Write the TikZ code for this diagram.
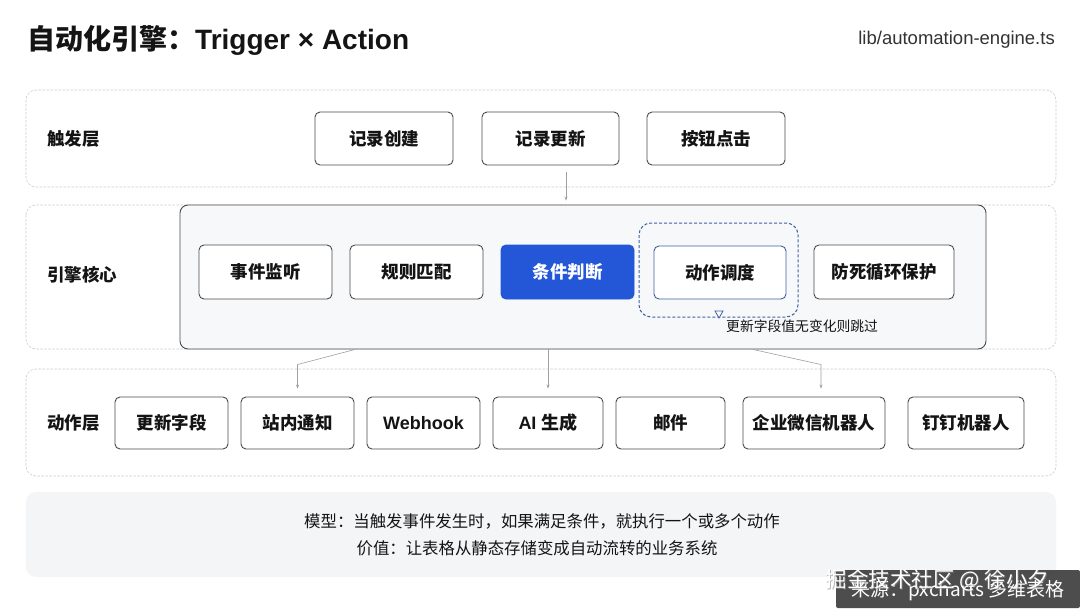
\documentclass[tikz,border=0pt]{standalone}
\usepackage{fontspec}
\setmainfont{Liberation Sans}
\newfontfamily\cjk{Noto Sans CJK SC}
\usetikzlibrary{arrows.meta,calc}
\definecolor{ink}{HTML}{141414}
\definecolor{boxline}{HTML}{4A4A4A}
\definecolor{layline}{HTML}{CDCDCD}
\definecolor{arrcol}{HTML}{A0A0A0}
\definecolor{blueact}{HTML}{2457D8}
\definecolor{bluedash}{HTML}{3F5F9E}
\definecolor{corefill}{HTML}{F7F8FA}
\definecolor{notefill}{HTML}{F4F5F7}
\definecolor{wmark}{HTML}{3A3A3A}
\newcommand{\fs}[1]{\fontsize{#1}{#1}\selectfont}
\begin{document}
\begin{tikzpicture}[x=1pt,y=-1pt,
  layer/.style={draw=layline,dash pattern=on 2.5pt off 1.5pt,rounded corners=10pt,line width=0.6pt},
  box/.style={draw=boxline,line width=0.9pt,rounded corners=5pt,fill=white,minimum height=53pt,inner sep=0pt,text=ink,font=\cjk\bfseries\fs{17.5}},
  lab/.style={anchor=west,inner sep=0pt,text=ink,font=\cjk\bfseries\fs{17.5}},
  arr/.style={draw=arrcol,line width=0.6pt,-{Stealth[length=4pt,width=3pt]}},
  plain/.style={inner sep=0pt,text=ink}]
\useasboundingbox (0,0) rectangle (1080,613);
\fill[white] (0,0) rectangle (1080,613);

% title
\node[plain,anchor=west,font=\bfseries\fs{28}] (title) at (27,40) {{\cjk\bfseries 自动化引擎：}Trigger × Action};
\node[plain,anchor=east,font=\fs{18.5},text=black!80] (file) at (1055,40) {lib/automation-engine.ts};

% layers
\draw[layer] (26,90) rectangle (1056,187);
\draw[layer] (26,205) rectangle (1056,349);
\draw[layer] (26,369) rectangle (1056,476);

\node[lab] (l1) at (47,139) {触发层};
\node[lab] (l2) at (47,275) {引擎核心};
\node[lab] (l3) at (47,423) {动作层};

% trigger boxes
\node[box,minimum width=138pt] (t1) at (384,138.5) {记录创建};
\node[box,minimum width=137pt] (t2) at (550.5,138.5) {记录更新};
\node[box,minimum width=138pt] (t3) at (716,138.5) {按钮点击};

% engine core
\node[draw=boxline,line width=0.9pt,rounded corners=8pt,fill=corefill,minimum width=806pt,minimum height=144pt,inner sep=0pt] (core) at (583,277) {};

\draw[bluedash,line width=1pt,dash pattern=on 3pt off 2pt,rounded corners=12pt] (639,223) rectangle (798,317);
\draw[bluedash,line width=0.8pt,fill=corefill] (715,311) -- (723,311) -- (719,318) -- cycle;
\node[plain,anchor=west,font=\cjk\fs{13.8}] (note) at (726,326) {更新字段值无变化则跳过};

\node[box,minimum width=133pt,minimum height=54pt] (e1) at (265.5,272) {事件监听};
\node[box,minimum width=133pt,minimum height=54pt] (e2) at (416.5,272) {规则匹配};
\node[box,minimum width=133pt,minimum height=54pt,fill=blueact,draw=blueact,text=white] (e3) at (567.5,272) {条件判断};
\node[box,minimum width=132pt,minimum height=53pt,draw=bluedash] (e4) at (720,272.5) {动作调度};
\node[box,minimum width=140pt,minimum height=54pt] (e5) at (884,272) {防死循环保护};

% action boxes
\node[box,minimum width=113pt,minimum height=52pt] (a1) at (171.5,423) {更新字段};
\node[box,minimum width=113pt,minimum height=52pt] (a2) at (297.5,423) {站内通知};
\node[box,minimum width=113pt,minimum height=52pt,font=\bfseries\fs{18}] (a3) at (423.5,423) {Webhook};
\node[box,minimum width=110pt,minimum height=52pt,font=\bfseries\fs{18}] (a4) at (548,423) {AI {\cjk\bfseries 生成}};
\node[box,minimum width=109pt,minimum height=52pt] (a5) at (670.5,423) {邮件};
\node[box,minimum width=142pt,minimum height=52pt] (a6) at (814,423) {企业微信机器人};
\node[box,minimum width=116pt,minimum height=52pt] (a7) at (966,423) {钉钉机器人};

% connectors
\draw[arr] ([xshift=15.5pt,yshift=-7pt]t2.south) -- ([xshift=15.5pt,yshift=4pt]t2.south |- core.north);
\draw[arr] ([xshift=-228pt]core.south) -- ($(a2.north)+(0,-32)$) -- ([yshift=8pt]a2.north);
\draw[arr] (core.south -| a4.north) -- ([yshift=8pt]a4.north);
\draw[arr] ([xshift=170pt]core.south) -- ($(a6.north)+(7,-32)$) -- ([xshift=7pt,yshift=8pt]a6.north);

% note panel
\fill[notefill,rounded corners=10pt] (26,492) rectangle (1056,577);
\node[plain,font=\cjk\fs{16.4}] (m1) at (542,521) {模型：当触发事件发生时，如果满足条件，就执行一个或多个动作};
\node[plain,font=\cjk\fs{16.4}] (m2) at (537,548) {价值：让表格从静态存储变成自动流转的业务系统};

% watermark
\fill[wmark,opacity=0.9,rounded corners=2pt] (836,570) rectangle (1080,608);
\node[plain,font=\cjk\fs{19},text=white] (w1) at (958,591) {来源：pxcharts 多维表格};
\node[plain,font=\cjk\fs{21.5},text=black!45,opacity=0.6] (w2s) at (938.5,581.5) {掘金技术社区 @ 徐小夕};
\node[plain,font=\cjk\fs{21.5},text=white] (w2) at (937.5,580) {掘金技术社区 @ 徐小夕};
\end{tikzpicture}
\end{document}
